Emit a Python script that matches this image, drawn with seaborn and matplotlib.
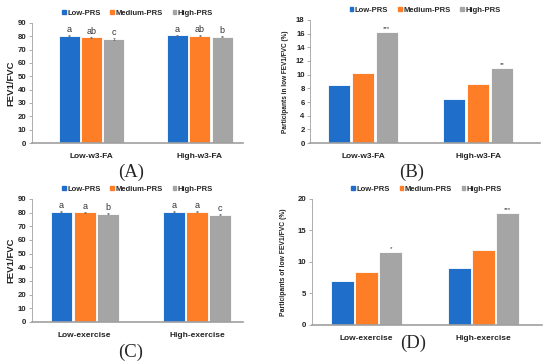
import numpy as np
import pandas as pd
import matplotlib
matplotlib.use('Agg')
import matplotlib.pyplot as plt
import seaborn as sns

sns.set_theme(style='white')
plt.rcParams['font.family'] = ['Liberation Sans', 'DejaVu Sans']

prs = ['Low-PRS', 'Medium-PRS', 'High-PRS']
colors = ['#1f6fca', '#fd7e26', '#a5a5a5']

# (A) FEV1/FVC by w3-FA intake
fa_groups = ['Low-w3-FA', 'High-w3-FA']
fa_ratio = [[80.2, 79.3, 77.9], [80.8, 80.4, 79.6]]
fa_ratio_se = [[0.4, 0.4, 0.5], [0.4, 0.4, 0.5]]
fa_ratio_lab = [['a', 'ab', 'c'], ['a', 'ab', 'b']]

# (B) participants in low FEV1/FVC by w3-FA
fa_low = [[8.5, 10.3, 16.3], [6.5, 8.7, 11.0]]
fa_low_lab = [['', '', '***'], ['', '', '**']]

# (C) FEV1/FVC by exercise
ex_groups = ['Low-exercise', 'High-exercise']
ex_ratio = [[80.5, 80.1, 79.2], [80.8, 80.5, 78.5]]
ex_ratio_se = [[0.4, 0.4, 0.5], [0.4, 0.4, 0.5]]
ex_ratio_lab = [['a', 'a', 'b'], ['a', 'a', 'c']]

# (D) participants of low FEV1/FVC by exercise
ex_low = [[7.0, 8.4, 11.6], [9.0, 11.9, 17.8]]
ex_low_lab = [['', '', '*'], ['', '', '***']]


def make_df(groups, vals):
    rows = []
    for g, v in zip(groups, vals):
        for p, y in zip(prs, v):
            rows.append({'group': g, 'PRS': p, 'value': y})
    return pd.DataFrame(rows)


def panel(fig, rect, groups, vals, labels, ylabel, ylim, ystep, xlim, tag, tag_xy,
          se=None, lab_size=6.5, ylab_size=6.8, ylab_pad=5):
    ax = fig.add_axes(rect)
    df = make_df(groups, vals)
    sns.barplot(data=df, x='group', y='value', hue='PRS', hue_order=prs,
                palette=colors, width=0.62, gap=0.06, saturation=1,
                errorbar=None, ax=ax, legend=False, edgecolor='white', linewidth=0.6)
    # bars come out hue by hue
    containers = list(ax.containers)
    for i, bars in enumerate(containers):
        for j, b in enumerate(bars):
            x = b.get_x() + b.get_width() / 2
            h = b.get_height()
            top = h
            if se is not None:
                ax.errorbar(x, h, yerr=se[j][i], color='#666666', lw=0.5, capsize=1.0, capthick=0.5)
                top = h + se[j][i]
            if labels[j][i]:
                ax.text(x, top + ylim * 0.008, labels[j][i], ha='center', va='bottom',
                        fontsize=lab_size, color='#333333')
    ax.set_ylim(0, ylim)
    ax.set_yticks(np.arange(0, ylim + 0.01, ystep))
    ax.set_xlim(*xlim)
    ax.set_xlabel('')
    ax.set_ylabel(ylabel, fontsize=ylab_size, fontweight='bold', color='#222222', labelpad=ylab_pad)
    for s in ['top', 'right']:
        ax.spines[s].set_visible(False)
    ax.spines['left'].set_color('#a0a0a0')
    ax.spines['left'].set_linewidth(0.6)
    ax.spines['bottom'].set_color('#a0a0a0')
    ax.spines['bottom'].set_linewidth(1.2)
    ax.tick_params(axis='y', left=True, length=2.5, width=0.6, color='#a0a0a0', labelsize=5.6, pad=1.5)
    ax.tick_params(axis='x', bottom=False, labelsize=6.0, pad=1.0)
    for t in ax.get_yticklabels():
        t.set_fontweight('bold')
        t.set_color('#222222')
    for t in ax.get_xticklabels():
        t.set_fontweight('bold')
        t.set_color('#222222')
    handles = [plt.Rectangle((0, 0), 1, 1, color=c) for c in colors]
    ax.legend(handles, prs, loc='lower center', bbox_to_anchor=(0.5, 1.0), ncol=3,
              frameon=False, handlelength=0.45, handleheight=0.45,
              handletextpad=0.2, columnspacing=1.3, borderaxespad=0.4,
              prop={'weight': 'bold', 'size': 5.5})
    fig.text(tag_xy[0] / 550, 1 - tag_xy[1] / 363, tag, ha='center', va='center',
             fontsize=13.5, family='Liberation Serif')
    return ax


fig = plt.figure(figsize=(5.5, 3.63), dpi=100)

panel(fig, [0.058, 0.606, 0.384, 0.331], fa_groups, fa_ratio, fa_ratio_lab,
      'FEV1/FVC', 90, 10, (-0.55, 1.4), '(A)', (131, 172), se=fa_ratio_se, ylab_pad=2)
panel(fig, [0.564, 0.606, 0.418, 0.339], fa_groups, fa_low, fa_low_lab,
      'Participants in low FEV1/FVC (%)', 18, 2, (-0.46, 1.54), '(B)', (412, 172),
      lab_size=4.5, ylab_size=4.7, ylab_pad=5)
panel(fig, [0.058, 0.113, 0.384, 0.339], ex_groups, ex_ratio, ex_ratio_lab,
      'FEV1/FVC', 90, 10, (-0.47, 1.41), '(C)', (131, 352), se=ex_ratio_se, ylab_pad=2)
panel(fig, [0.567, 0.105, 0.418, 0.347], ex_groups, ex_low, ex_low_lab,
      'Participants of low FEV1/FVC (%)', 20, 5, (-0.47, 1.5), '(D)', (413, 343),
      lab_size=4.5, ylab_size=4.9, ylab_pad=8)

fig.savefig('out.png', dpi=100)
